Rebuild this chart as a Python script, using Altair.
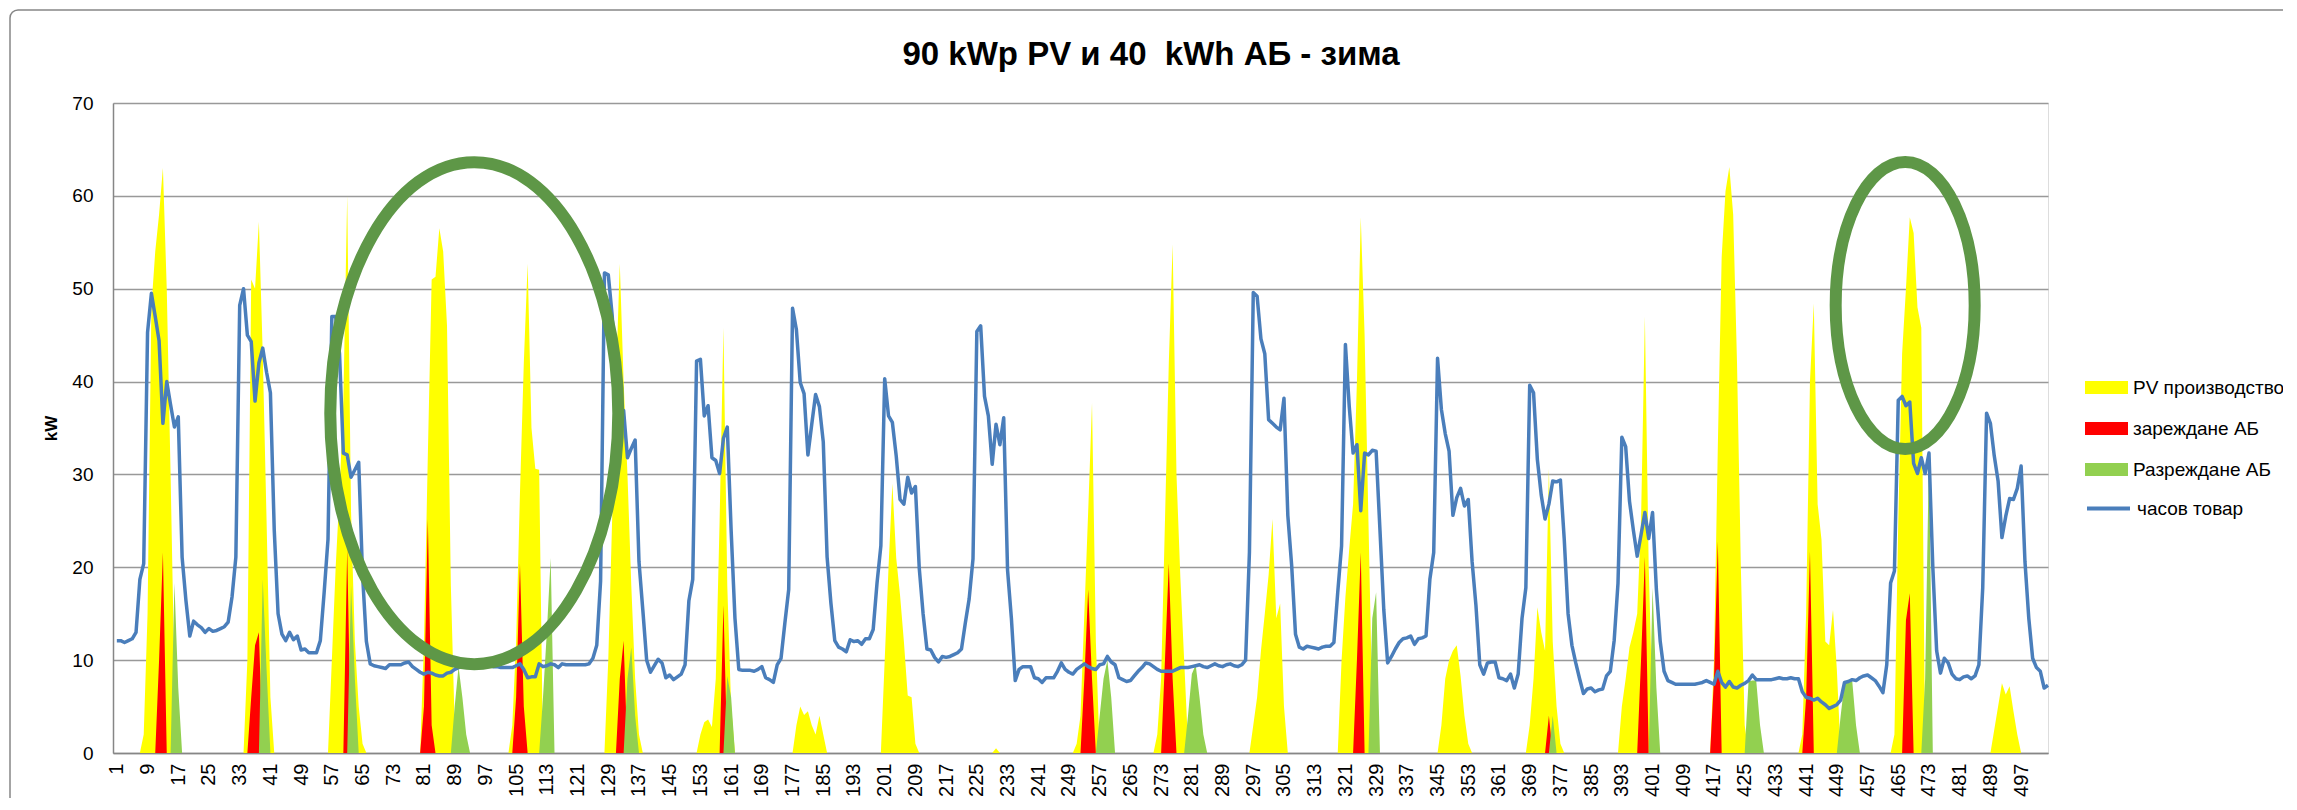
import altair as alt
import pandas as pd

# ---------------- data ----------------
# hourly load ("часов товар"), one row per day (24 h)
LOAD_DAYS = [
    [12.1, 12.1, 11.9, 12.1, 12.3, 13.0, 18.7, 20.4, 45.3, 49.5, 47.0, 44.4, 35.5, 40.0, 37.5, 35.1, 36.2, 21.1, 16.4, 12.6, 14.2, 13.8, 13.5, 13.0],
    [13.4, 13.1, 13.2, 13.4, 13.6, 14.1, 16.8, 21.1, 48.2, 50.0, 45.0, 44.3, 37.9, 42.0, 43.6, 41.0, 38.8, 24.0, 15.0, 12.8, 12.1, 13.0, 12.2, 12.6],
    [11.1, 11.2, 10.8, 10.8, 10.8, 12.1, 17.3, 23.0, 47.0, 47.0, 43.0, 32.3, 32.1, 29.7, 30.5, 31.3, 19.2, 12.0, 9.6, 9.4, 9.3, 9.2, 9.1, 9.5],
    [9.5, 9.5, 9.5, 9.7, 9.8, 9.3, 9.0, 8.7, 8.5, 8.7, 8.6, 8.4, 8.3, 8.3, 8.6, 8.7, 9.0, 9.2, 9.4, 9.5, 9.5, 9.5, 9.5, 9.5],
    [9.5, 9.4, 9.3, 9.3, 9.2, 9.2, 9.2, 9.2, 9.4, 9.6, 9.0, 8.1, 8.2, 8.2, 9.6, 9.3, 9.4, 9.6, 9.5, 9.2, 9.6, 9.5, 9.5, 9.5],
    [9.5, 9.5, 9.5, 9.6, 10.2, 11.6, 18.5, 51.7, 51.5, 47.2, 41.0, 34.9, 36.9, 31.8, 32.8, 33.7, 20.6, 15.4, 10.0, 8.7, 9.4, 10.1, 9.7, 8.1],
    [8.4, 7.9, 8.2, 8.5, 9.5, 16.4, 18.7, 42.2, 42.4, 36.3, 37.4, 31.8, 31.5, 30.1, 33.9, 35.1, 24.0, 14.5, 9.0, 8.9, 8.9, 8.9, 8.8, 9.0],
    [9.3, 8.1, 7.9, 7.6, 9.5, 10.2, 14.0, 17.6, 47.9, 45.6, 39.9, 38.7, 32.1, 35.4, 38.6, 37.3, 33.5, 21.1, 16.1, 12.1, 11.4, 11.2, 10.9, 12.2],
    [12.0, 12.1, 11.7, 12.3, 12.3, 13.3, 18.3, 22.3, 40.3, 36.3, 35.6, 32.0, 27.3, 26.8, 29.7, 28.0, 28.7, 19.9, 15.0, 11.2, 11.1, 10.3, 9.8, 10.4],
    [10.3, 10.4, 10.6, 10.8, 11.2, 14.0, 16.6, 20.9, 45.4, 46.0, 38.4, 36.3, 31.1, 35.4, 33.2, 36.1, 19.7, 14.5, 7.8, 9.0, 9.3, 9.3, 9.3, 8.1],
    [8.0, 7.6, 8.1, 8.1, 8.1, 8.8, 9.7, 9.0, 8.7, 8.5, 9.0, 9.3, 9.6, 9.3, 9.1, 9.0, 9.5, 9.6, 10.4, 9.8, 9.5, 8.1, 7.9, 7.7],
    [7.8, 8.3, 8.8, 9.2, 9.7, 9.6, 9.3, 9.0, 8.8, 8.8, 8.8, 8.8, 9.0, 9.2, 9.2, 9.2, 9.3, 9.4, 9.5, 9.3, 9.2, 9.4, 9.6, 9.4],
    [9.3, 9.5, 9.6, 9.4, 9.3, 9.5, 10.0, 21.6, 49.6, 49.2, 44.6, 43.0, 35.9, 35.5, 35.1, 34.8, 38.2, 25.6, 20.2, 12.8, 11.4, 11.2, 11.5, 11.4],
    [11.3, 11.2, 11.4, 11.5, 11.5, 11.9, 17.3, 22.3, 44.0, 37.3, 32.3, 33.2, 26.1, 32.3, 32.1, 32.6, 32.5, 24.0, 15.4, 9.7, 10.4, 11.2, 11.9, 12.3],
    [12.4, 12.6, 11.7, 12.3, 12.4, 12.6, 18.7, 21.6, 42.5, 37.0, 34.4, 32.5, 25.6, 27.5, 28.5, 26.6, 27.3, 20.6, 15.9, 9.5, 8.5, 9.7, 9.8, 9.8],
    [8.1, 8.0, 7.8, 8.5, 7.0, 8.5, 14.5, 17.8, 39.6, 38.8, 31.6, 27.8, 25.2, 26.8, 29.3, 29.2, 29.4, 23.0, 15.0, 11.6, 9.7, 8.0, 6.4, 6.9],
    [7.0, 6.6, 6.8, 6.9, 8.3, 8.8, 12.1, 18.3, 34.0, 33.0, 27.1, 24.0, 21.2, 23.5, 25.9, 23.1, 25.9, 17.6, 12.0, 8.8, 7.8, 7.6, 7.4, 7.4],
    [7.4, 7.4, 7.4, 7.4, 7.5, 7.6, 7.8, 7.6, 7.4, 8.8, 7.6, 7.1, 7.7, 7.1, 7.0, 7.3, 7.5, 7.8, 8.4, 7.9, 7.9, 7.9, 7.9, 7.9],
    [8.0, 8.1, 8.0, 8.0, 8.1, 8.0, 8.0, 6.6, 6.0, 5.9, 5.7, 5.9, 5.5, 5.2, 4.8, 5.0, 5.2, 5.7, 7.6, 7.7, 7.9, 7.8, 8.1, 8.3],
    [8.4, 8.1, 7.8, 7.2, 6.5, 9.5, 18.3, 19.6, 38.0, 38.4, 37.4, 37.8, 31.2, 30.1, 31.8, 30.1, 32.3, 20.0, 11.0, 8.6, 10.2, 9.7, 8.5, 8.0],
    [7.9, 8.2, 8.3, 8.0, 8.3, 9.5, 17.8, 36.6, 35.5, 32.0, 29.3, 23.2, 25.5, 27.4, 27.3, 28.5, 30.9, 20.6, 14.5, 10.2, 9.2, 8.8, 7.0, 7.3],
]

# PV production: (first non-zero hour, values); all other hours are 0
PV_SEGMENTS = [
    (8, [2, 15, 48, 54, 58, 63, 50, 30, 8]),
    (35, [10, 51, 50, 57.2, 43, 25, 6]),
    (57, [10, 20, 28, 38, 60, 26, 12, 5, 1]),
    (81, [12, 32, 51, 51.3, 56.5, 54, 46, 18, 3]),
    (104, [3, 12, 28, 42, 52.7, 35, 30.6, 30.5]),
    (129, [10, 25, 40, 52.7, 40, 30, 18, 8, 2]),
    (153, [2, 3.3, 3.6, 2.8, 8, 25, 45.8, 18, 5]),
    (178, [3, 5, 4.1, 4.5, 3, 2, 4, 2]),
    (201, [10, 20, 29, 21, 17, 12, 6.2, 6, 1]),
    (230, [0.5]),
    (251, [1, 4, 15, 26, 37.7, 12]),
    (272, [2, 8, 25, 42, 54.8, 30, 19, 10, 1]),
    (297, [3, 6, 11, 15, 19.2, 25.2, 14.5, 16.1, 5]),
    (320, [10, 16.8, 22, 26.8, 40, 57.7, 45, 25, 5]),
    (346, [3, 8, 10, 11, 11.6, 8.3, 4, 1]),
    (369, [3, 8, 15.7, 13, 11, 30.6, 12, 5, 1]),
    (393, [5, 8, 11.4, 13, 15, 25, 47, 20, 5]),
    (417, [10, 33, 53.4, 60.5, 63.1, 58, 42, 20, 3]),
    (440, [2, 15, 40, 48.4, 26.8, 23, 12, 11.6, 15.4, 9]),
    (464, [2, 25, 43, 50, 57.7, 56, 48, 45.8]),
    (490, [2.5, 5, 7.5, 6.3, 7.2, 4.5, 2]),
]

# battery charging ("зареждане АБ")
CHARGE_SEGMENTS = [
    (12, [10, 21.6]),
    (36, [6, 11.6, 13]),
    (61, [22]),
    (81, [5, 25.2, 3]),
    (105, [6, 20.4, 5]),
    (132, [8, 12.1]),
    (159, [15.9]),
    (253, [8, 17.6, 8]),
    (274, [10, 20.4, 8]),
    (324, [10, 21.6]),
    (374, [4]),
    (398, [10, 21.1]),
    (417, [8, 22.8]),
    (441, [6, 21.7]),
    (467, [14.3, 17.2]),
]

# battery discharging ("Разреждане АБ")
DISCHARGE_SEGMENTS = [
    (16, [18.3, 7]),
    (39, [18.7, 9]),
    (62, [18, 8]),
    (89, [5, 9.3, 6, 2]),
    (112, [6, 13, 21]),
    (134, [8, 11.4, 4]),
    (160, [8.3, 6]),
    (257, [4, 8, 10, 6]),
    (280, [4, 8.5, 9.5, 6, 2]),
    (328, [14.5, 17.3]),
    (375, [4]),
    (401, [17.8, 7]),
    (426, [7.7, 7.8, 7.8, 3]),
    (450, [4, 7.6, 7.9, 7.8, 3]),
    (472, [8, 32.3]),
]

# highlight ellipses: centre (hour, kW) and size in px (width, height)
ELLIPSES = [
    (94.1, 36.6, 288, 502),
    (466.8, 48.2, 139, 287),
]

SERIES = ["PV производство", "зареждане АБ", "Разреждане АБ"]
SERIES_COLORS = ["#FFFF00", "#FF0000", "#92D050"]
LINE_NAME = "часов товар"
LINE_COLOR = "#4A7EBB"
ELLIPSE_COLOR = "#5E9747"
TITLE = "90 kWp PV и 40 \u00a0kWh АБ - зима"
N_HOURS = 504
X_TICKS = list(range(1, N_HOURS + 1, 8))
Y_TICKS = list(range(0, 71, 10))

# ---------------- build tables ----------------
HOURS = list(range(1, N_HOURS + 1))
LOAD = [v for day in LOAD_DAYS for v in day]


def expand(segments):
    arr = [0.0] * N_HOURS
    for start, vals in segments:
        for i, v in enumerate(vals):
            arr[start - 1 + i] = v
    return arr


def frame(values, name):
    return pd.DataFrame({"hour": HOURS, "kW": values, "series": name})


df_pv = frame(expand(PV_SEGMENTS), SERIES[0])
df_ch = frame(expand(CHARGE_SEGMENTS), SERIES[1])
df_dis = frame(expand(DISCHARGE_SEGMENTS), SERIES[2])
df_load = frame(LOAD, LINE_NAME)

FONT = "Liberation Sans"
W, H = 1935, 650

x_enc = alt.X(
    "hour:Q",
    scale=alt.Scale(domain=[0, N_HOURS], nice=False, zero=False),
    axis=alt.Axis(
        values=X_TICKS, tickCount=200, labelAngle=270, labelAlign="right",
        labelBaseline="middle", labelFontSize=20, labelFont=FONT, labelColor="#000000",
        labelPadding=10, labelFlush=False, labelOverlap=False, labelSeparation=0,
        labelBound=False, grid=False, ticks=False, domainColor="#868686",
        domainWidth=1.5, title=None,
    ),
)
y_enc = alt.Y(
    "kW:Q",
    stack=False,
    scale=alt.Scale(domain=[0, 70], nice=False),
    axis=alt.Axis(
        values=Y_TICKS, labelFontSize=19, labelFont=FONT, labelColor="#000000",
        labelPadding=20, ticks=False, grid=True, gridColor="#999999", gridWidth=1.3,
        domainColor="#868686", domainWidth=1.5, title="kW", titleFont=FONT,
        titleFontSize=17, titleFontWeight="bold", titleColor="#000000",
        titlePadding=11,
    ),
)

RECT_SYMBOL = "M-1,-0.3 L1,-0.3 L1,0.3 L-1,0.3 Z"
fill_enc = alt.Fill(
    "series:N",
    scale=alt.Scale(domain=SERIES, range=SERIES_COLORS),
    legend=alt.Legend(
        orient="none", legendX=1972, legendY=263, title=None,
        symbolType=RECT_SYMBOL, symbolSize=1849, symbolStrokeWidth=0,
        labelFont=FONT, labelFontSize=19, labelColor="#000000", labelOffset=5,
        rowPadding=9, padding=0, symbolOpacity=1,
    ),
)


def area(df):
    return alt.Chart(df).mark_area(interpolate="linear", opacity=1).encode(
        x=x_enc, y=y_enc, fill=fill_enc
    )


line = alt.Chart(df_load).mark_line(strokeWidth=3.5, strokeJoin="round").encode(
    x=x_enc,
    y=y_enc,
    stroke=alt.Stroke(
        "series:N",
        scale=alt.Scale(domain=[LINE_NAME], range=[LINE_COLOR]),
        legend=alt.Legend(
            orient="none", legendX=1972, legendY=382, title=None,
            symbolType="stroke", symbolSize=1849, symbolStrokeWidth=4,
            labelFont=FONT, labelFontSize=19, labelColor="#000000", labelOffset=5,
            padding=0,
        ),
    ),
)


def ellipse_path(a, k=0.5523):
    ak = a * k
    return (f"M{a},0 C{a},{k} {ak},1 0,1 C{-ak},1 {-a},{k} {-a},0 "
            f"C{-a},{-k} {-ak},-1 0,-1 C{ak},-1 {a},{-k} {a},0 Z")


ellipse_layers = []
for hx, ky, ew, eh in ELLIPSES:
    ellipse_layers.append(
        alt.Chart(pd.DataFrame({"hour": [hx], "kW": [ky]}))
        .mark_point(shape=ellipse_path(ew / eh), size=eh * eh, filled=False,
                    stroke=ELLIPSE_COLOR, strokeWidth=12, opacity=1)
        .encode(x="hour:Q", y="kW:Q")
    )

# chart title as a text mark centred above the plot
title_layer = alt.Chart(pd.DataFrame({"t": [TITLE]})).mark_text(
    font=FONT, fontSize=33, fontWeight="bold", color="#000000",
    align="center", baseline="alphabetic",
).encode(text="t:N", x=alt.value(1038), y=alt.value(-38))

# outer chart-area frame
border = alt.Chart(pd.DataFrame({"a": [0]})).mark_rect(
    fillOpacity=0, stroke="#868686", strokeWidth=1.5, cornerRadius=8
).encode(x=alt.value(-103), x2=alt.value(W + 270), y=alt.value(-93), y2=alt.value(H + 80))

chart = alt.layer(
    area(df_pv), area(df_ch), area(df_dis), line, *ellipse_layers, title_layer, border
).properties(
    width=W,
    height=H,
    padding={"left": 105, "top": 95, "right": 235, "bottom": 45},
    autosize=alt.AutoSizeParams(type="none"),
).configure_view(strokeWidth=0).configure_axisX(
    labelOverlap=False, labelSeparation=0
).configure(background="#FFFFFF")

chart.save("out.html", embed_options={"renderer": "svg", "actions": False})
